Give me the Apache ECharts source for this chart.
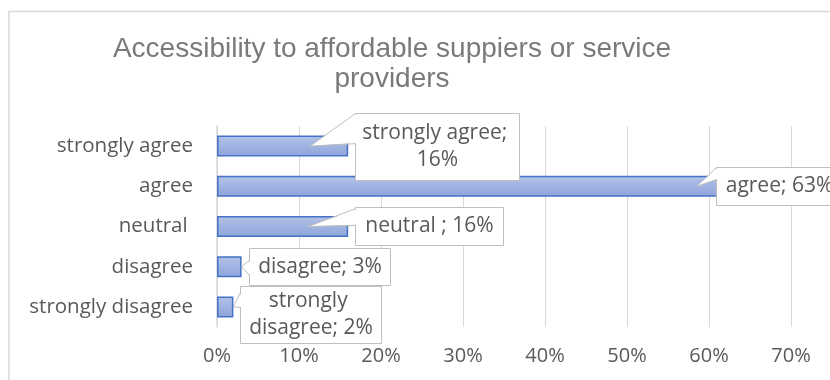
<!DOCTYPE html>
<html>
<head>
<meta charset="utf-8">
<script src="https://cdn.jsdelivr.net/npm/echarts@6/dist/echarts.min.js"></script>
<style>
  html, body { margin: 0; padding: 0; background: #fff; }
  #chart { width: 830px; height: 380px; }
</style>
</head>
<body>
<div id="chart"></div>
<script>
// Survey answers, listed top to bottom
const categories = ['strongly agree', 'agree', 'neutral ', 'disagree', 'strongly disagree'];
// Share of respondents per answer (%)
const shares = [16, 63, 16, 3, 2];
// Value axis range (%)
const axisMin = 0;
const axisMax = 70;
const axisStep = 10;

const titleText = 'Accessibility to affordable suppiers or service\nproviders';

// Callout boxes: offset of the box from the bar end, box size,
// how far back along the bar the pointer reaches, and where the
// pointer leaves the box's left edge (fractions of box height)
const calloutLayout = [
  { dx: 7,   dy: 0,   w: 164, h: 67, back: 38, base: [0.0, 0.45] },
  { dx: -18, dy: 0,   w: 126, h: 38, back: 37, base: [0.0, 0.32] },
  { dx: 7,   dy: -1,  w: 148, h: 38, back: 40, base: [0.03, 0.47] },
  { dx: 7,   dy: 0,   w: 141, h: 37, back: 0,  base: [0.32, 0.73] },
  { dx: 7,   dy: 7.5, w: 141, h: 57, back: 0,  base: [0.1, 0.37] }
];

const textColor = '#595959';
const fontFamily = '"Open Sans", "Noto Sans", sans-serif';

const chart = echarts.init(document.getElementById('chart'), null, { renderer: 'canvas' });

function renderCallout(params, api) {
  const i = params.dataIndex;
  const cfg = calloutLayout[i];
  const end = api.coord([api.value(0), api.value(1)]);
  const L = Math.round(end[0] + cfg.dx) + 0.5;
  const T = Math.round(end[1] + cfg.dy - cfg.h / 2) + 0.5;
  const tip = [end[0] - cfg.back, end[1]];
  const y0 = T + cfg.base[0] * cfg.h;
  const y1 = T + cfg.base[1] * cfg.h;
  const label = categories[api.value(1)] + '; ' + api.value(0) + '%';
  const z = 10 + (categories.length - i);
  return {
    type: 'group',
    children: [
      {
        type: 'rect', z2: z,
        shape: { x: L, y: T, width: cfg.w, height: cfg.h },
        style: { fill: '#ffffff', stroke: '#bfbfbf', lineWidth: 1 }
      },
      {
        type: 'polygon', z2: z,
        shape: { points: [[L + 1, y0 + 0.6], tip, [L + 1, y1 - 0.6]] },
        style: { fill: '#ffffff' }
      },
      {
        type: 'polyline', z2: z,
        shape: { points: [[L, y0], tip, [L, y1]] },
        style: { fill: null, stroke: '#bfbfbf', lineWidth: 1 }
      },
      {
        type: 'text', z2: z,
        x: L + cfg.w / 2,
        y: T + cfg.h / 2,
        style: {
          text: label,
          width: cfg.w - 12,
          overflow: 'break',
          align: 'center',
          verticalAlign: 'middle',
          fontFamily: fontFamily,
          fontSize: 21,
          lineHeight: 27,
          fill: textColor
        }
      }
    ]
  };
}

const option = {
  animation: false,
  backgroundColor: '#ffffff',
  graphic: [
    {
      type: 'rect',
      shape: { x: 9, y: 11.5, width: 1000, height: 1000 },
      style: { fill: null, stroke: '#d9d9d9', lineWidth: 1.5 },
      silent: true
    },
    {
      type: 'text',
      x: 392,
      y: 34,
      style: {
        text: titleText,
        align: 'center',
        verticalAlign: 'top',
        fontFamily: 'Liberation Sans, Arial, sans-serif',
        fontSize: 28,
        lineHeight: 30,
        fill: '#7a7a7a'
      }
    }
  ],
  grid: { left: 217, right: 39, top: 126, bottom: 53, containLabel: false },
  xAxis: {
    type: 'value',
    min: axisMin,
    max: axisMax,
    interval: axisStep,
    axisLine: { show: false },
    axisTick: { show: false },
    splitLine: { lineStyle: { color: '#d9d9d9', width: 1 } },
    axisLabel: {
      formatter: '{value}%',
      color: textColor,
      fontFamily: fontFamily,
      fontSize: 20,
      margin: 19
    }
  },
  yAxis: {
    type: 'category',
    data: categories,
    inverse: true,
    axisLine: { show: true, lineStyle: { color: '#d9d9d9', width: 1.5 } },
    axisTick: { show: false },
    axisLabel: {
      color: textColor,
      fontFamily: fontFamily,
      fontSize: 20.5,
      margin: 24
    }
  },
  series: [
    {
      type: 'bar',
      data: shares,
      barWidth: 21,
      itemStyle: {
        color: new echarts.graphic.LinearGradient(0, 0, 0, 1, [
          { offset: 0, color: '#b3c2e8' },
          { offset: 1, color: '#8ea4da' }
        ]),
        borderColor: '#4472c4',
        borderWidth: 1.5
      }
    },
    {
      type: 'custom',
      renderItem: renderCallout,
      data: shares.map((v, i) => [v, i]),
      encode: { x: 0, y: 1 },
      clip: false,
      z: 5
    }
  ]
};

chart.setOption(option);
</script>
</body>
</html>
